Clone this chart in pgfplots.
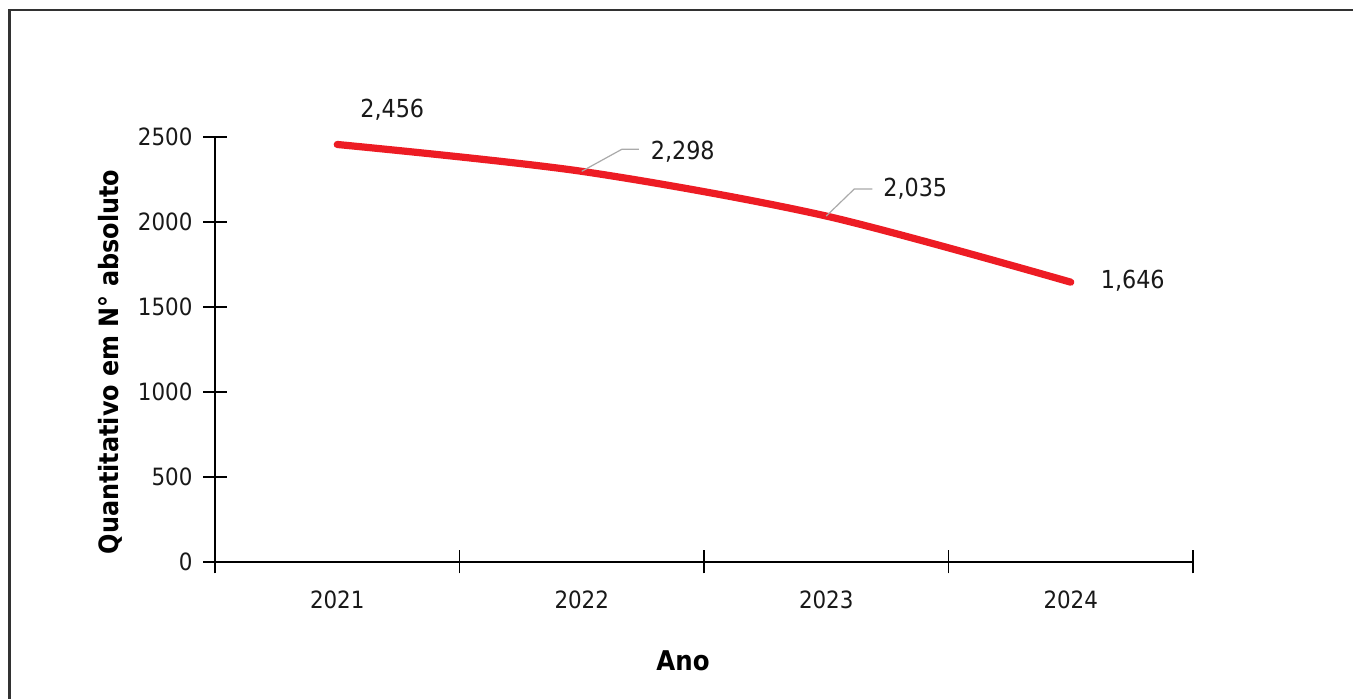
\documentclass[border=0pt]{standalone}
\usepackage{pgfplots}
\pgfplotsset{compat=1.18}
\usepackage{fontspec}
\setmainfont{DejaVu Sans Condensed}

\definecolor{linered}{RGB}{237,28,36}
\definecolor{leader}{RGB}{170,170,170}
\definecolor{txt}{RGB}{25,25,25}
\definecolor{frame}{RGB}{50,50,50}

\begin{document}
\begin{tikzpicture}
% page size and outer frame
\useasboundingbox (0,0) rectangle (676.5pt,349.5pt);
\fill[white] (0,0) rectangle (676.5pt,349.5pt);
\draw[frame, line width=1.2pt] (4.8pt,0) -- (4.8pt,344.6pt) -- (676.5pt,344.6pt);

\begin{axis}[
  at={(107.5pt,68.5pt)}, anchor=south west,
  scale only axis, width=489pt, height=212.5pt,
  xmin=-0.5, xmax=3.5, ymin=0, ymax=2500,
  axis lines*=left,
  axis line style={black, line width=0.9pt},
  every tick/.style={black, line width=0.9pt},
  tick align=center,
  xtick={0,1,2,3},
  xticklabels={2021,2022,2023,2024},
  major x tick style={draw=none},
  minor xtick={-0.5,0.5,1.5,2.5,3.5},
  minor tick length=11.5pt,
  ytick={0,500,1000,1500,2000,2500},
  yticklabels={0,500,1000,1500,2000,2500},
  major tick length=11.5pt,
  tick label style={font=\fontsize{11.9pt}{14pt}\selectfont, text=txt},
  yticklabel style={anchor=east, xshift=-2pt},
  xticklabel style={anchor=north, yshift=-5pt},
  xlabel={Ano},
  ylabel={Quantitativo em N° absoluto},
  xlabel style={font=\fontsize{13.6pt}{16pt}\selectfont\bfseries,
    at={(axis description cs:0.4785,-0.233)}, anchor=center},
  ylabel style={font=\fontsize{13.3pt}{15pt}\selectfont\bfseries,
    at={(axis description cs:-0.1074,0.4706)}, anchor=center, rotate=0},
  clip=false,
]
\addplot[linered, line width=3.6pt, line cap=round, line join=round, smooth, tension=0.5]
  coordinates {(0,2456) (1,2298) (2,2035) (3,1646)};

% value labels and leader lines
\begin{scope}[every node/.style={font=\fontsize{12.4pt}{15pt}\selectfont, text=txt}]
\node at (axis cs:0,2456) [xshift=27.5pt, yshift=17.25pt] {2,456};
\draw[leader, line width=0.6pt] (axis cs:1,2298) -- ++(20pt,11pt) -- ++(8.5pt,0pt);
\node at (axis cs:1,2298) [xshift=50.5pt, yshift=10pt] {2,298};
\draw[leader, line width=0.6pt] (axis cs:2,2035) -- ++(14pt,13.5pt) -- ++(9pt,0pt);
\node at (axis cs:2,2035) [xshift=44.5pt, yshift=13.5pt] {2,035};
\node at (axis cs:3,1646) [xshift=31pt, yshift=0.5pt] {1,646};
\end{scope}
\end{axis}
\end{tikzpicture}
\end{document}
